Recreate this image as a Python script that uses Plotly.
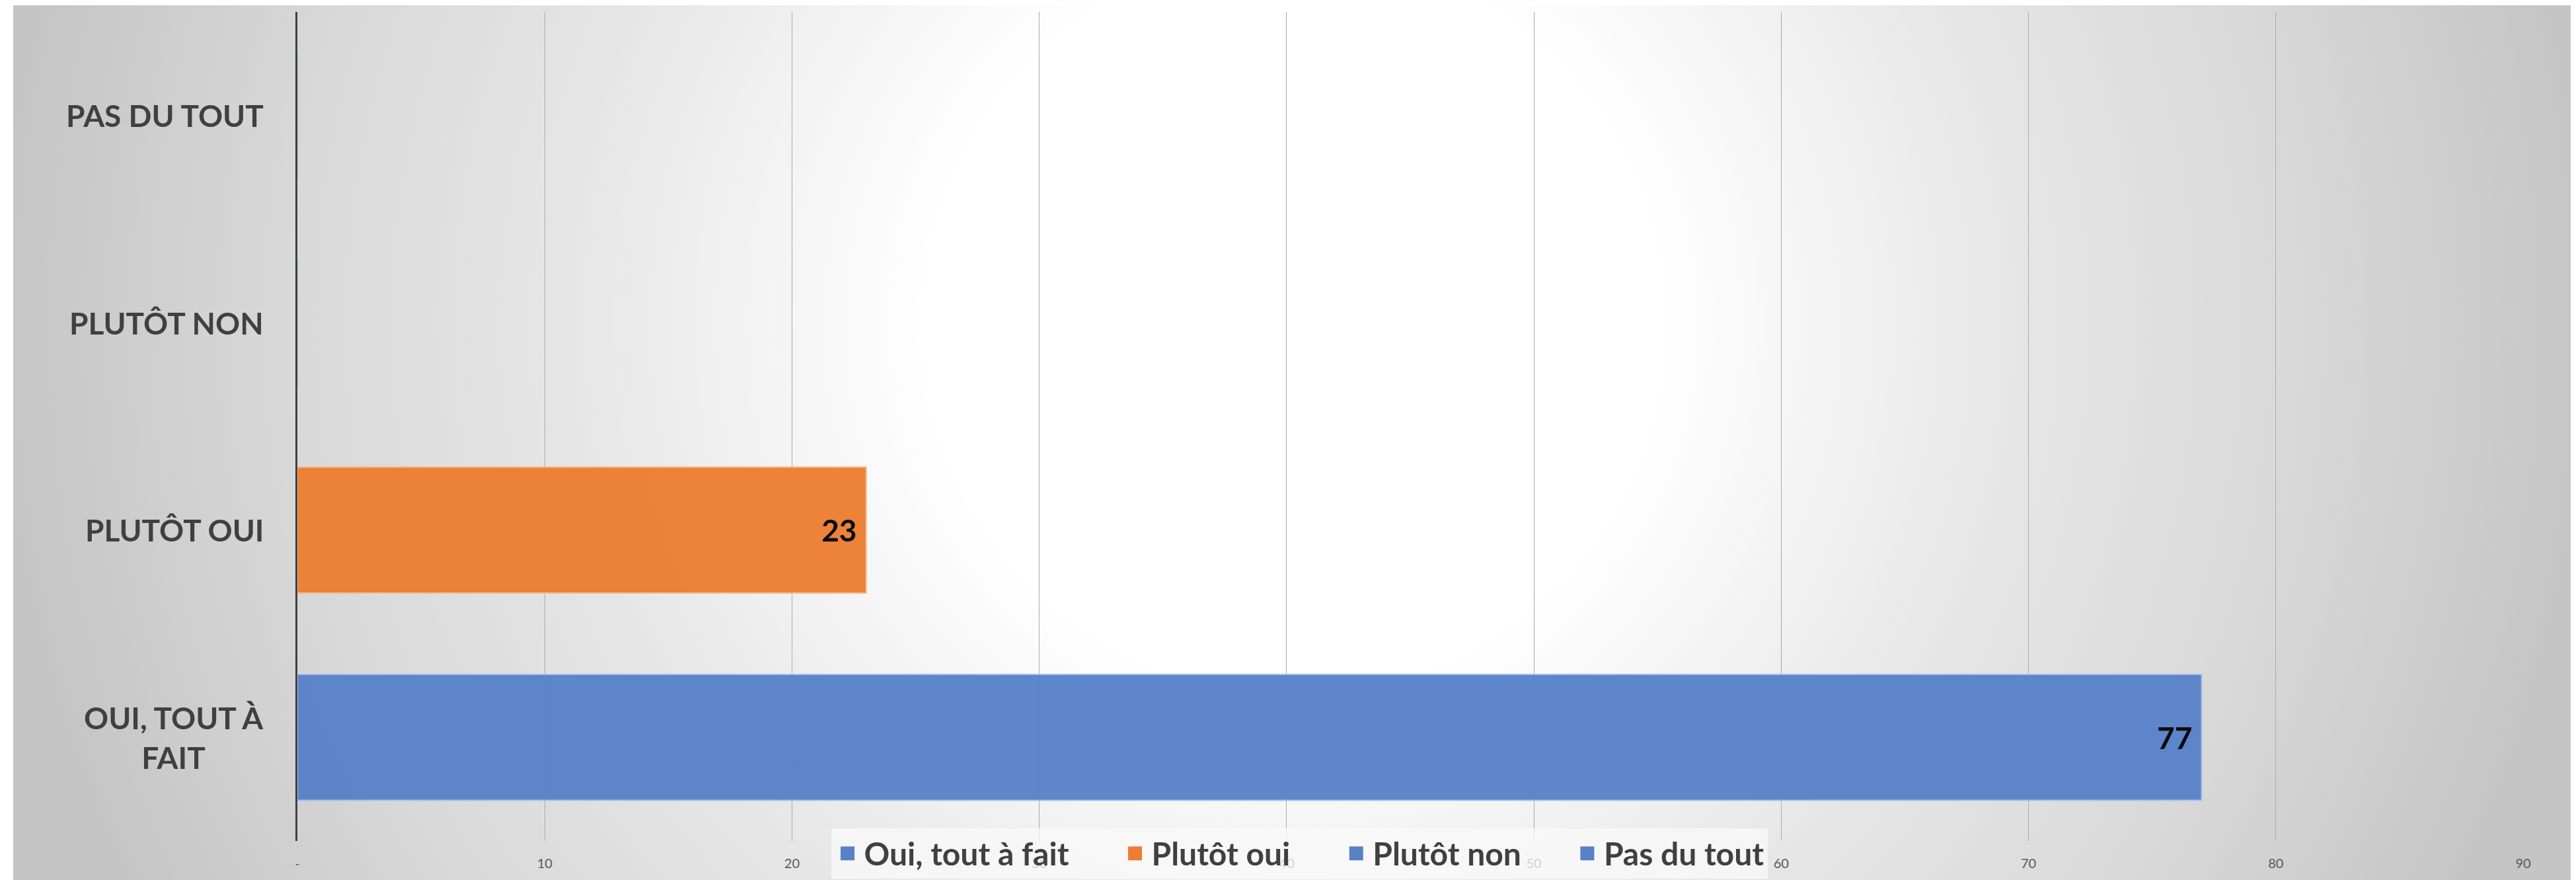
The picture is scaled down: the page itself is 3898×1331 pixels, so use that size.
import base64
import plotly.graph_objects as go

# ---- data ----
categories = ["Oui, tout à fait", "Plutôt oui", "Plutôt non", "Pas du tout"]
category_labels = ["OUI, TOUT À<br>FAIT", "PLUTÔT OUI", "PLUTÔT NON", "PAS DU TOUT"]
values = [77, 23, 0, 0]
bar_colors = ["#5881C8", "#ED7D31", "#5881C8", "#5881C8"]
bar_edges = ["#A9C0E8", "#F6B88E", "#A9C0E8", "#A9C0E8"]
x_tickvals = [0, 10, 20, 30, 40, 50, 60, 70, 80, 90]
x_ticktext = ["-", "10", "20", "30", "40", "50", "60", "70", "80", "90"]

W, H = 3898, 1331
ML, MR, MT, MB = 442, 88, 10, 67
PW, PH = W - ML - MR, H - MT - MB

def px_to_paper_x(px):
    return (px - ML) / PW

def px_to_paper_y(py):
    return (H - MB - py) / PH

# background radial gradient (as svg image)
FW = 3871
svg = f'''<svg xmlns="http://www.w3.org/2000/svg" width="{FW}" height="{H}" viewBox="0 0 {FW} {H}" preserveAspectRatio="none">
<defs><radialGradient id="g" gradientUnits="userSpaceOnUse" cx="1938" cy="480" r="1960">
<stop offset="0" stop-color="#ffffff"/>
<stop offset="0.28" stop-color="#ffffff"/>
<stop offset="0.56" stop-color="#e6e6e6"/>
<stop offset="0.78" stop-color="#d8d8d8"/>
<stop offset="1" stop-color="#c5c5c5"/>
</radialGradient></defs>
<rect x="0" y="0" width="{FW}" height="{H}" fill="url(#g)"/></svg>'''
src = "data:image/svg+xml;base64," + base64.b64encode(svg.encode()).decode()

fig = go.Figure()

fig.add_trace(go.Bar(
    y=categories, x=values, orientation="h",
    marker=dict(color=bar_colors, line=dict(color=bar_edges, width=2)),
    opacity=0.96,
    text=[(str(v) + "\u00a0") if v else "" for v in values],
    textposition="inside", insidetextanchor="end", textangle=0,
    constraintext="none",
    textfont=dict(family="Lato", size=46, color="#000000", weight="bold"),
    showlegend=False, hoverinfo="skip",
))

n = len(categories)
for i, (name, col) in enumerate(zip(categories, bar_colors)):
    pad = "\u00a0" * 6 if i < n - 1 else ""
    fig.add_trace(go.Scatter(
        x=[None], y=[None], mode="markers", name=name + pad,
        marker=dict(symbol="square", size=16, color=col, line=dict(color=col, width=5)),
    ))

for cat, lab in zip(categories, category_labels):
    fig.add_annotation(
        x=px_to_paper_x(393), xref="paper", y=cat, yref="y",
        text=lab, showarrow=False, xanchor="right", yanchor="middle", align="center",
        font=dict(family="Lato", size=46, color="#404040", weight="bold"),
    )

fig.add_layout_image(dict(
    source=src, xref="paper", yref="paper",
    x=px_to_paper_x(12), y=px_to_paper_y(0),
    sizex=FW / PW, sizey=H / PH,
    xanchor="left", yanchor="top", sizing="stretch", layer="below",
))

fig.update_layout(
    width=W, height=H,
    margin=dict(l=ML, r=MR, t=MT, b=MB, autoexpand=False),
    paper_bgcolor="#ffffff", plot_bgcolor="rgba(0,0,0,0)",
    barmode="overlay", bargap=0.393,
    showlegend=True,
    legend=dict(
        orientation="h", x=px_to_paper_x(1958), xanchor="center",
        y=px_to_paper_y(1283), yanchor="middle",
        bgcolor="rgba(250,250,250,0.75)", borderwidth=0,
        itemwidth=40,
        font=dict(family="Lato", size=48, color="#404040", weight="bold"),
        itemclick=False, itemdoubleclick=False,
    ),
    xaxis=dict(
        range=[0, 90], tickvals=x_tickvals, ticktext=x_ticktext,
        showgrid=True, gridcolor="#ababab", gridwidth=1,
        zeroline=False, showline=False,
        ticks="outside", ticklen=16, tickcolor="rgba(0,0,0,0)",
        tickfont=dict(family="Lato", size=20, color="#595959"),
        fixedrange=True,
    ),
    yaxis=dict(
        type="category", categoryorder="array", categoryarray=categories,
        range=[-0.5, 3.5], showticklabels=False, showgrid=False, zeroline=False,
        showline=True, linecolor="#404040", linewidth=3,
        fixedrange=True,
    ),
)

fig.write_html("out.html")
